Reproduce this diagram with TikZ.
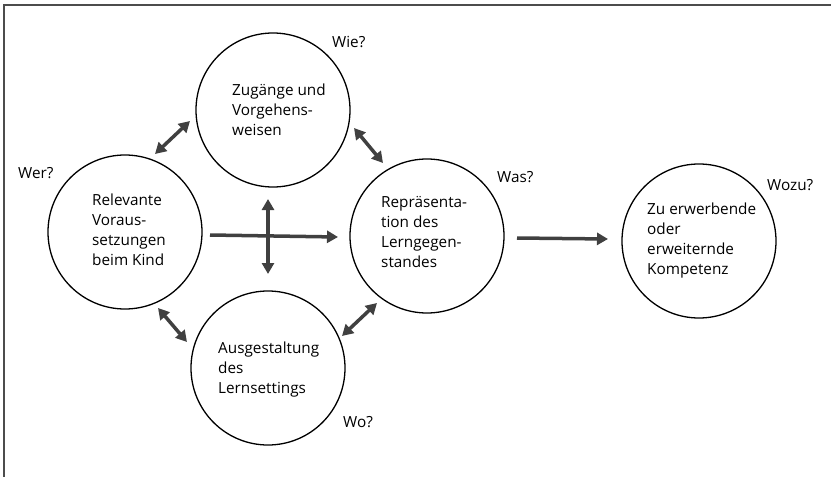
\documentclass[tikz,border=0pt]{standalone}
\usepackage{fontspec}
\setmainfont{Open Sans}
\usetikzlibrary{arrows.meta}
\begin{document}
\begin{tikzpicture}[x=1pt,y=-1pt,
  circ/.style={draw=black,line width=1.3pt,circle,minimum size=154pt,inner sep=0pt},
  txt/.style={anchor=base west,inner sep=0pt,font=\fontsize{15.3}{20}\selectfont,align=left},
  qlab/.style={anchor=base west,inner sep=0pt,font=\fontsize{15.3}{20}\selectfont},
  arr/.style={draw=black!75,line width=3.5pt,-{Triangle[length=11pt,width=12pt]}},
  darr/.style={draw=black!75,line width=3.5pt,{Triangle[length=11pt,width=12pt]}-{Triangle[length=11pt,width=12pt]}}]
\useasboundingbox (0,0) rectangle (831,477);
\draw[black!70,line width=1.5pt] (4,477) -- (4,5) -- (831,5);
% circles
\node[circ] (L) at (125,232) {};
\node[circ] (T) at (273,110) {};
\node[circ] (B) at (268,368) {};
\node[circ] (M) at (427,236) {};
\node[circ] (R) at (699,241) {};
% texts (anchored at the baseline of the last line)
\node[txt] (tL) at (92,265) {Relevante\\Voraus-\\setzungen\\beim Kind};
\node[txt] (tT) at (232,135) {Zugänge und\\Vorgehens-\\weisen};
\node[txt] (tB) at (218,393) {Ausgestaltung\\des\\Lernsettings};
\node[txt] (tM) at (381,267) {Repräsenta-\\tion des\\Lerngegen-\\standes};
\node[txt] (tR) at (647,274) {Zu erwerbende\\oder\\erweiternde\\Kompetenz};
% questions
\node[qlab] (qL) at (18,178) {Wer?};
\node[qlab] (qT) at (332,47) {Wie?};
\node[qlab] (qM) at (497,182) {Was?};
\node[qlab] (qB) at (343,427) {Wo?};
\node[qlab] (qR) at (767,190) {Wozu?};
% arrow endpoints
\coordinate (a1) at (155,154); \coordinate (a2) at (190,121);
\coordinate (b1) at (354,128); \coordinate (b2) at (383,163);
\coordinate (c1) at (158,308); \coordinate (c2) at (187,342);
\coordinate (d1) at (342,336); \coordinate (d2) at (377,303);
\coordinate (e1) at (210,235); \coordinate (e2) at (338,237);
\coordinate (f1) at (268,199); \coordinate (f2) at (268,274);
\coordinate (g1) at (517,238); \coordinate (g2) at (608,239);
\draw[darr] (a1) -- (a2);
\draw[darr] (b1) -- (b2);
\draw[darr] (c1) -- (c2);
\draw[darr] (d1) -- (d2);
\draw[arr] (e1) -- (e2);
\draw[darr] (f1) -- (f2);
\draw[arr] (g1) -- (g2);
\end{tikzpicture}
\end{document}
